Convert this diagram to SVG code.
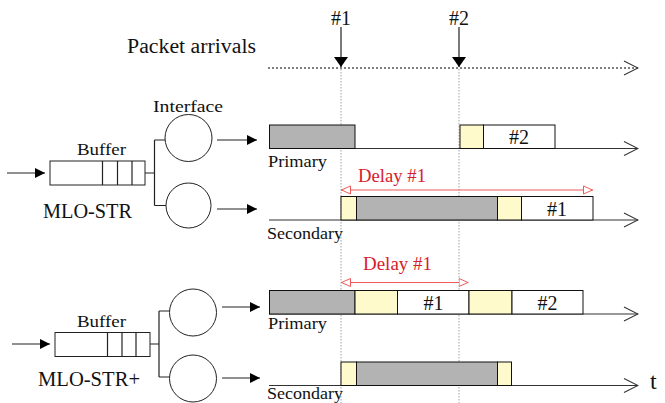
<svg xmlns="http://www.w3.org/2000/svg" width="665" height="403" viewBox="0 0 665 403">
<defs>
<style>
text{font-family:"Liberation Serif","DejaVu Serif",serif;fill:#111}
.lbl{font-size:20.5px}
.sm{font-size:17.5px}
.tl{font-size:17px}
.num{font-size:20px;text-anchor:middle}
.big{font-size:24px}
.red{fill:#d8202c;font-size:19px}
.ln{stroke:#222;stroke-width:1.2;fill:none}
.ax{stroke:#333;stroke-width:1.1;fill:none}
.vd{stroke:#888;stroke-width:0.8;stroke-dasharray:1.5 1.5;fill:none}
.gray{fill:#b3b3b3;stroke:#111;stroke-width:1}
.yel{fill:#fffacc;stroke:#111;stroke-width:1}
.wh{fill:#fff;stroke:#111;stroke-width:1}
.delay{stroke:#f05a5a;stroke-width:1.2;fill:none;marker-start:url(#ohs);marker-end:url(#ohe)}
</style>
<marker id="fa" viewBox="0 0 10 10" refX="10" refY="5" markerWidth="10" markerHeight="10" markerUnits="userSpaceOnUse" orient="auto"><path d="M0,0 L10,5 L0,10 Z" fill="#000"/></marker>
<marker id="da" viewBox="0 0 10 14" refX="10" refY="7" markerWidth="11" markerHeight="14" markerUnits="userSpaceOnUse" orient="auto"><path d="M0,0 L10,7 L0,14 Z" fill="#000"/></marker>
<marker id="oa" viewBox="0 0 16 16" refX="15" refY="8" markerWidth="16" markerHeight="16" markerUnits="userSpaceOnUse" orient="auto"><path d="M1,1 L15,8 L1,15" fill="none" stroke="#333" stroke-width="1.1"/></marker>
<marker id="ohe" viewBox="0 0 10 10" refX="10" refY="5" markerWidth="10" markerHeight="10" markerUnits="userSpaceOnUse" orient="auto"><path d="M0.5,1 L9.5,5 L0.5,9 Z" fill="#fff" stroke="#f05a5a" stroke-width="1"/></marker>
<marker id="ohs" viewBox="0 0 10 10" refX="0" refY="5" markerWidth="10" markerHeight="10" markerUnits="userSpaceOnUse" orient="auto"><path d="M9.5,1 L0.5,5 L9.5,9 Z" fill="#fff" stroke="#f05a5a" stroke-width="1"/></marker>
</defs>
<rect width="665" height="403" fill="#fff"/>

<!-- vertical guides -->
<g id="guides">
<line class="vd" x1="341" y1="69" x2="341" y2="403"/>
<line class="vd" x1="459" y1="69" x2="459" y2="403"/>
</g>

<!-- packet arrivals -->
<g id="arrivals">
<text class="lbl" x="127" y="53" textLength="129" lengthAdjust="spacingAndGlyphs">Packet arrivals</text>
<line x1="268" y1="68" x2="638" y2="68" stroke="#555" stroke-width="1.3" stroke-dasharray="2 2" marker-end="url(#oa)"/>
<text class="num" x="341" y="25">#1</text>
<text class="num" x="459" y="25">#2</text>
<line class="ln" x1="341" y1="27" x2="341" y2="67" marker-end="url(#da)"/>
<line class="ln" x1="459" y1="27" x2="459" y2="67" marker-end="url(#da)"/>
</g>

<!-- MLO-STR node -->
<g id="mlo-str">
<text class="lbl" x="43" y="218" textLength="89" lengthAdjust="spacingAndGlyphs">MLO-STR</text>
<text class="sm" x="77" y="155" textLength="49" lengthAdjust="spacingAndGlyphs">Buffer</text>
<text class="sm" x="153" y="112" textLength="70" lengthAdjust="spacingAndGlyphs">Interface</text>
<rect x="50" y="161" width="95" height="24" fill="#fff" stroke="#222" stroke-width="1"/>
<line class="ln" x1="102.5" y1="161" x2="102.5" y2="185"/>
<line class="ln" x1="117.5" y1="161" x2="117.5" y2="185"/>
<line class="ln" x1="132" y1="161" x2="132" y2="185"/>
<circle cx="188.5" cy="138" r="23.5" fill="#fff" stroke="#222" stroke-width="1"/>
<circle cx="188.5" cy="205.5" r="22.5" fill="#fff" stroke="#222" stroke-width="1"/>
</g>

<!-- MLO-STR+ node -->
<g id="mlo-str-plus">
<text class="lbl" x="38" y="386" textLength="102" lengthAdjust="spacingAndGlyphs">MLO-STR+</text>
<text class="sm" x="77" y="327" textLength="49" lengthAdjust="spacingAndGlyphs">Buffer</text>
<rect x="55" y="332.5" width="95" height="24" fill="#fff" stroke="#222" stroke-width="1"/>
<line class="ln" x1="107.5" y1="332.5" x2="107.5" y2="356.5"/>
<line class="ln" x1="122" y1="332.5" x2="122" y2="356.5"/>
<line class="ln" x1="136" y1="332.5" x2="136" y2="356.5"/>
<circle cx="193" cy="312.5" r="23.5" fill="#fff" stroke="#222" stroke-width="1"/>
<circle cx="193" cy="378.5" r="23.5" fill="#fff" stroke="#222" stroke-width="1"/>
</g>

<!-- connectors -->
<g id="connectors">
<line class="ln" x1="7" y1="173" x2="45" y2="173" marker-end="url(#fa)"/>
<path class="ln" d="M145,173 H154.5 M154.5,140 V205.5 M154.5,140 H165 M154.5,205.5 H166"/>
<line class="ln" x1="217" y1="140" x2="257" y2="140" marker-end="url(#fa)"/>
<line class="ln" x1="217" y1="209" x2="257" y2="209" marker-end="url(#fa)"/>
<line class="ln" x1="12" y1="344" x2="50" y2="344" marker-end="url(#fa)"/>
<path class="ln" d="M150,344 H159 M159,311 V377 M159,311 H169.5 M159,377 H169.5"/>
<line class="ln" x1="222" y1="307" x2="260" y2="307" marker-end="url(#fa)"/>
<line class="ln" x1="222" y1="378" x2="260" y2="378" marker-end="url(#fa)"/>
</g>

<!-- MLO-STR timelines -->
<g id="str-primary">
<line class="ax" x1="269" y1="148.5" x2="638" y2="148.5" marker-end="url(#oa)"/>
<rect class="gray" x="269.5" y="125" width="85.5" height="23.5"/>
<rect class="yel" x="460" y="125" width="23.5" height="23.5"/>
<rect class="wh" x="483.5" y="125" width="71.5" height="23.5"/>
<text class="num" x="519" y="144">#2</text>
<text class="tl" x="268" y="167" textLength="59" lengthAdjust="spacingAndGlyphs">Primary</text>
</g>
<g id="str-delay">
<text class="red" x="358" y="182" textLength="68" lengthAdjust="spacingAndGlyphs">Delay #1</text>
<line class="delay" x1="341" y1="190" x2="593" y2="190"/>
</g>
<g id="str-secondary">
<line class="ax" x1="269" y1="220" x2="638" y2="220" marker-end="url(#oa)"/>
<rect class="yel" x="341" y="196.5" width="15.5" height="23.5"/>
<rect class="gray" x="356.5" y="196.5" width="141" height="23.5"/>
<rect class="yel" x="497.5" y="196.5" width="24" height="23.5"/>
<rect class="wh" x="521.5" y="196.5" width="71.5" height="23.5"/>
<text class="num" x="557" y="216">#1</text>
<text class="tl" x="267" y="238.5" textLength="76" lengthAdjust="spacingAndGlyphs">Secondary</text>
</g>

<!-- MLO-STR+ timelines -->
<g id="strp-delay">
<text class="red" x="363" y="270" textLength="69" lengthAdjust="spacingAndGlyphs">Delay #1</text>
<line class="delay" x1="341" y1="282.5" x2="468.5" y2="282.5"/>
</g>
<g id="strp-primary">
<line class="ax" x1="269" y1="314" x2="638" y2="314" marker-end="url(#oa)"/>
<rect class="gray" x="269.5" y="290.5" width="85.5" height="23.5"/>
<rect class="yel" x="355" y="290.5" width="42.5" height="23.5"/>
<rect class="wh" x="397.5" y="290.5" width="71.5" height="23.5"/>
<rect class="yel" x="469" y="290.5" width="43" height="23.5"/>
<rect class="wh" x="512" y="290.5" width="71" height="23.5"/>
<text class="num" x="433.5" y="310">#1</text>
<text class="num" x="547.5" y="310">#2</text>
<text class="tl" x="268" y="329" textLength="59" lengthAdjust="spacingAndGlyphs">Primary</text>
</g>
<g id="strp-secondary">
<line class="ax" x1="269" y1="385.5" x2="638" y2="385.5" marker-end="url(#oa)"/>
<rect class="yel" x="341" y="362" width="15.5" height="23.5"/>
<rect class="gray" x="356.5" y="362" width="141" height="23.5"/>
<rect class="yel" x="497.5" y="362" width="14" height="23.5"/>
<text class="tl" x="267" y="399" textLength="76" lengthAdjust="spacingAndGlyphs">Secondary</text>
<text class="big" x="650" y="389">t</text>
</g>
</svg>
